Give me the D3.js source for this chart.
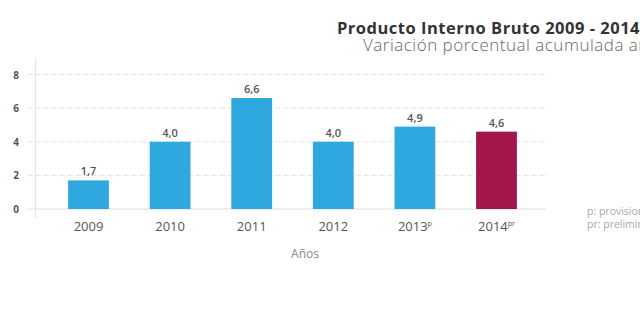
<!DOCTYPE html>
<html>
<head>
<meta charset="utf-8">
<script src="https://cdn.jsdelivr.net/npm/d3@7"></script>
<style>
  html, body { margin: 0; padding: 0; background: #fff; overflow: hidden; }
  svg { display: block; font-family: "Open Sans", "Noto Sans", sans-serif; }
</style>
</head>
<body>
<svg id="chart" width="640" height="325"></svg>
<script>
// PIB: variación porcentual acumulada anual
const years = ["2009", "2010", "2011", "2012", "2013", "2014"];
const yearMarks = ["", "", "", "", "p", "pr"];
const values = [1.7, 4.0, 6.6, 4.0, 4.9, 4.6];
const barColors = ["#2fa8df", "#2fa8df", "#2fa8df", "#2fa8df", "#2fa8df", "#a3164b"];
const yTicks = [0, 2, 4, 6, 8];
const notes = ["p: provisional", "pr: preliminar"];

const svg = d3.select("#chart");

const x = d3.scaleBand().domain(years).range([47.7, 537.3]).paddingInner(0.5).paddingOuter(0.25);
const y = d3.scaleLinear().domain([0, 8]).range([209, 74.5]);

// Títulos
svg.append("text")
  .attr("x", 337).attr("y", 33.5)
  .attr("font-size", 16.5).attr("font-weight", 700).attr("fill", "#333")
  .attr("letter-spacing", 0.5)
  .text("Producto Interno Bruto 2009 - 2014");
svg.append("text")
  .attr("x", 363).attr("y", 51)
  .attr("font-size", 17).attr("font-weight", 300).attr("fill", "#666")
  .attr("letter-spacing", 0.5)
  .text("Variación porcentual acumulada anual");

// Líneas de cuadrícula discontinuas
svg.append("g")
  .selectAll("line")
  .data(yTicks.filter(d => d > 0))
  .join("line")
  .attr("x1", 28).attr("x2", 546)
  .attr("y1", d => y(d)).attr("y2", d => y(d))
  .attr("stroke", "#e2e2e2").attr("stroke-width", 1)
  .attr("stroke-dasharray", "5,3");

// Línea base y eje vertical
svg.append("line")
  .attr("x1", 28).attr("x2", 546)
  .attr("y1", y(0)).attr("y2", y(0))
  .attr("stroke", "#dcdcdc");
svg.append("line")
  .attr("x1", 35.5).attr("x2", 35.5)
  .attr("y1", 58).attr("y2", 218)
  .attr("stroke", "#e4e4e4");

// Etiquetas del eje Y
const yAxis = d3.axisLeft(y).tickValues(yTicks).tickSize(0).tickPadding(0).tickFormat(d3.format("d"));
const gy = svg.append("g").attr("transform", "translate(16,0)").call(yAxis);
gy.select(".domain").remove();
gy.selectAll("text")
  .attr("font-family", "'Open Sans', sans-serif")
  .attr("font-size", 10).attr("font-weight", 700).attr("fill", "#555")
  .attr("text-anchor", "middle").attr("dy", "0.35em");

// Barras
svg.append("g")
  .selectAll("rect")
  .data(years)
  .join("rect")
  .attr("x", d => x(d))
  .attr("width", x.bandwidth())
  .attr("y", (d, i) => y(values[i]))
  .attr("height", (d, i) => y(0) - y(values[i]))
  .attr("fill", (d, i) => barColors[i]);

// Valores sobre las barras
svg.append("g")
  .selectAll("text")
  .data(years)
  .join("text")
  .attr("x", d => x(d) + x.bandwidth() / 2)
  .attr("y", (d, i) => y(values[i]) - 5)
  .attr("text-anchor", "middle")
  .attr("font-size", 11).attr("font-weight", 600).attr("fill", "#555")
  .text((d, i) => d3.format(".1f")(values[i]).replace(".", ","));

// Etiquetas del eje X
const xAxis = d3.axisBottom(x).tickSize(0).tickPadding(0);
const gx = svg.append("g").attr("transform", "translate(0,231)").call(xAxis);
gx.select(".domain").remove();
gx.selectAll("text").remove();
gx.selectAll(".tick").each(function(d, i) {
  const t = d3.select(this).append("text")
    .attr("text-anchor", "middle")
    .attr("font-family", "'Open Sans', sans-serif")
    .attr("font-size", 13).attr("fill", "#555");
  t.append("tspan").text(d);
  if (yearMarks[i]) {
    t.append("tspan").attr("font-size", 7).attr("dy", -5).text(yearMarks[i]);
  }
});

// Título del eje X
svg.append("text")
  .attr("x", 305).attr("y", 258)
  .attr("text-anchor", "middle")
  .attr("font-size", 12).attr("fill", "#888")
  .text("Años");

// Notas
svg.append("g")
  .selectAll("text")
  .data(notes)
  .join("text")
  .attr("x", 587)
  .attr("y", (d, i) => 215 + i * 12.5)
  .attr("font-size", 10.5).attr("fill", "#a8a8a8")
  .text(d => d);
</script>
</body>
</html>
